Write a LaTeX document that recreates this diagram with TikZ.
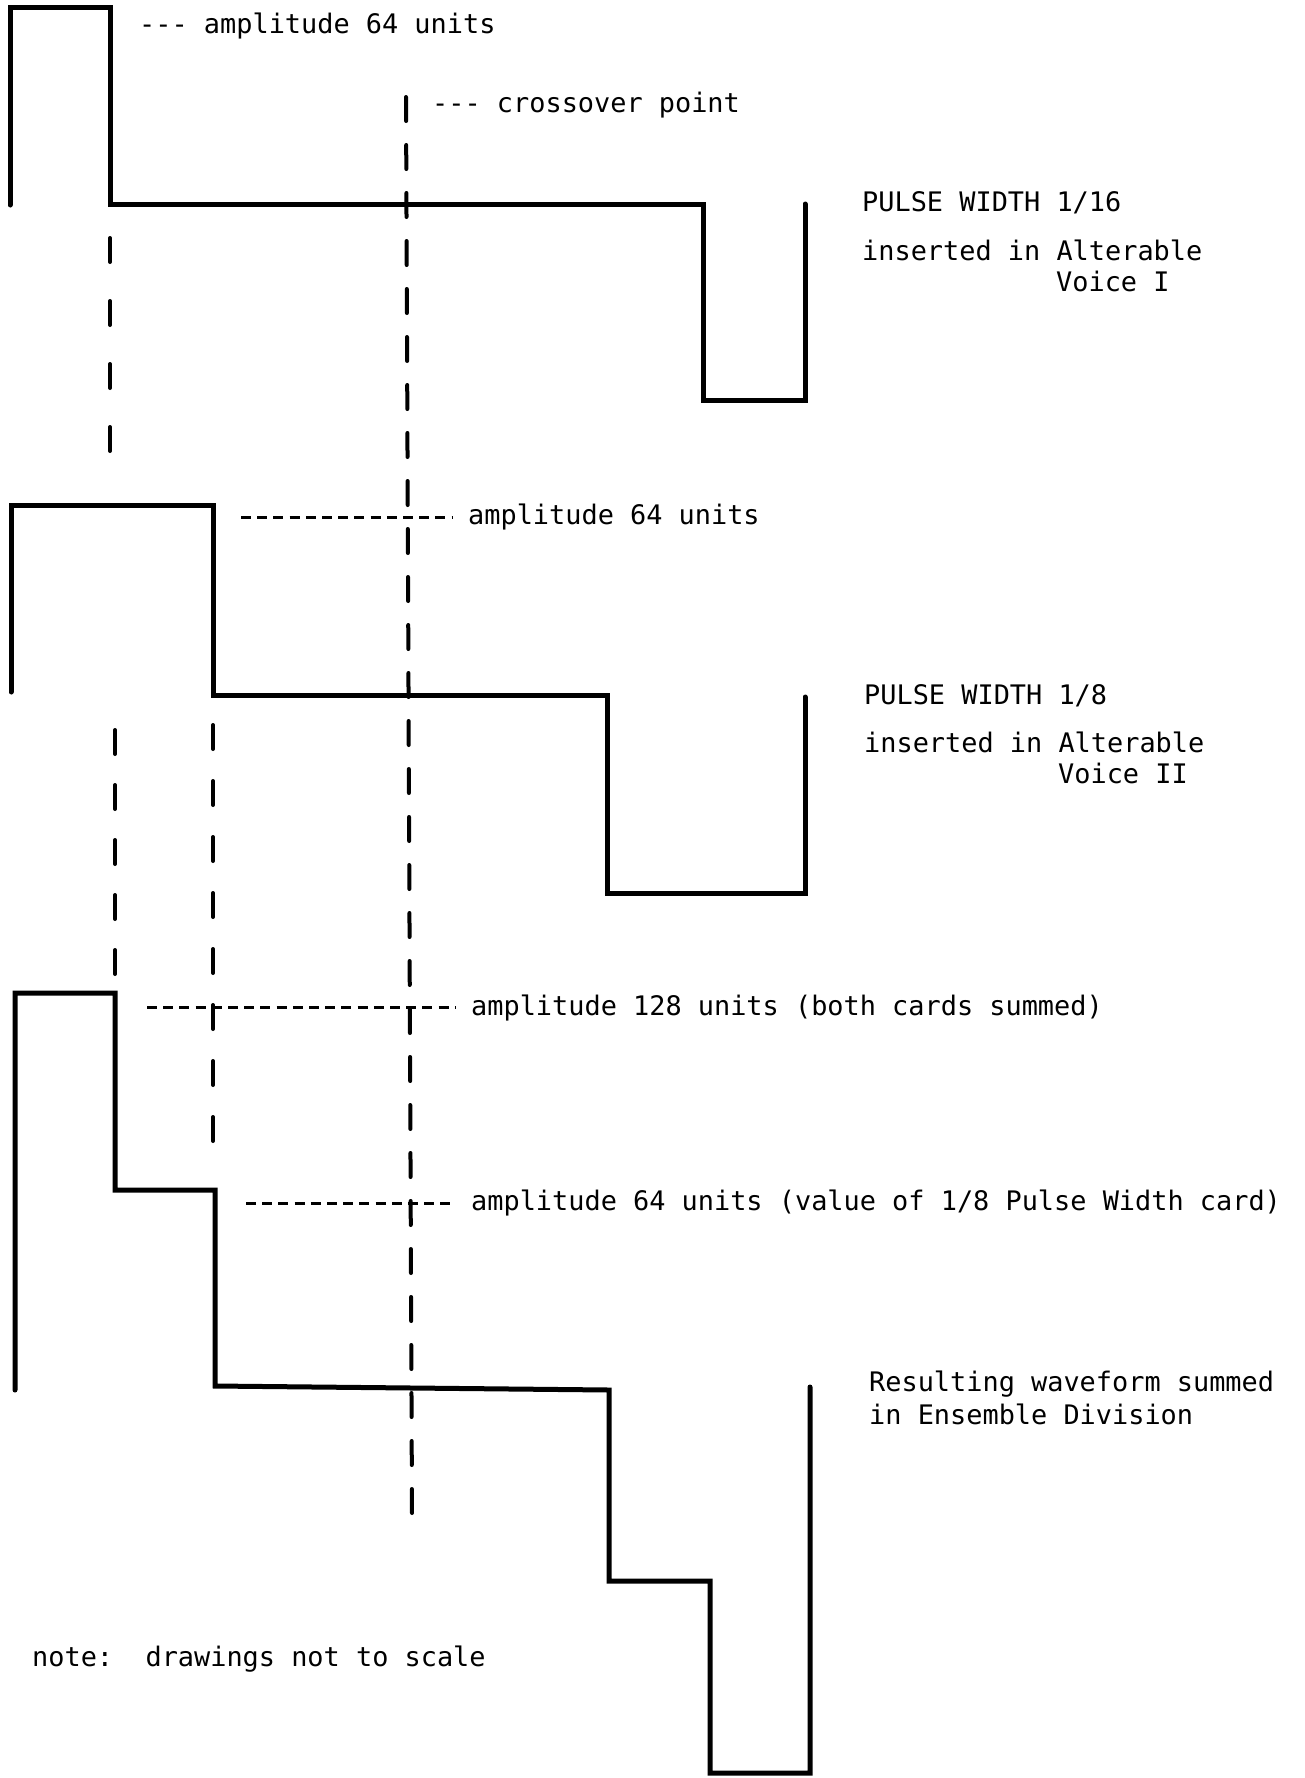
\documentclass[tikz,border=0pt]{standalone}
\usepackage{fontspec}
\setmonofont{DejaVu Sans Mono}
\begin{document}
\begin{tikzpicture}[x=1pt,y=-1pt,
  wave/.style={line width=5pt, line join=miter, line cap=round},
  guide/.style={line width=4pt, line cap=round},
  lead/.style={line width=3pt, dash pattern=on 10pt off 6.2pt},
  lbl/.style={font=\ttfamily\fontsize{26.9}{32}\selectfont, inner sep=0pt, anchor=base west},
  leadlbl/.style={lbl, inner xsep=16pt}]
\fill[white] (0,0) rectangle (1305,1778);
\useasboundingbox (0,0) rectangle (1305,1778);

% ---------- waveform 1: pulse width 1/16 ----------
\draw[wave] (10,205) -- (10,7) -- (110,7) -- (110,204) -- (703,204) -- (703,400) -- (805,400) -- (805,204);
\node[lbl] (amp1) at (139,33) {--- amplitude 64 units};
\node[lbl] (xo) at (432,112) {--- crossover point};
\node[lbl] (p1a) at (862,211) {PULSE WIDTH 1/16};
\node[lbl] (p1b) at (862,260) {inserted in Alterable};
\node[lbl] (p1c) at (1056,291) {Voice I};

% ---------- crossover guide ----------
\coordinate (xoT) at (406,97);
\coordinate (xoB) at (412,1515);
\draw[guide, dash pattern=on 24pt off 24pt] (xoT) -- (xoB);

% guide below pulse 1
\coordinate (g1T) at (110,238);
\coordinate (g1B) at (110,452);
\draw[guide, dash pattern=on 24pt off 39pt] (g1T) -- (g1B);

% ---------- waveform 2: pulse width 1/8 ----------
\draw[wave] (11,692) -- (11,505) -- (213,505) -- (213,695) -- (607,695) -- (607,893) -- (805,893) -- (805,697);
\coordinate (h2s) at (241,517);
\node[leadlbl] (amp2) at (452,524) {amplitude 64 units};
\draw[lead] (h2s) -- ([yshift=7pt]amp2.base west);
\node[lbl] (p2a) at (864,704) {PULSE WIDTH 1/8};
\node[lbl] (p2b) at (864,752) {inserted in Alterable};
\node[lbl] (p2c) at (1058,783) {Voice II};

% guides below pulse 2
\coordinate (g2T) at (115,730);
\coordinate (g2B) at (115,975);
\draw[guide, dash pattern=on 24pt off 31pt] (g2T) -- (g2B);
\coordinate (g3T) at (213,725);
\coordinate (g3B) at (213,1143);
\draw[guide, dash pattern=on 24pt off 32pt] (g3T) -- (g3B);

% ---------- waveform 3: resulting sum ----------
\draw[wave] (15,1390) -- (15,993) -- (115,993) -- (115,1190) -- (215,1190) -- (215,1386) -- (609,1390) -- (609,1581) -- (710,1581) -- (710,1773) -- (810,1773) -- (810,1387);
\coordinate (h3s) at (147,1007);
\node[leadlbl] (amp3) at (455,1015) {amplitude 128 units (both cards summed)};
\draw[lead] (h3s) -- ([yshift=8pt]amp3.base west);
\coordinate (h4s) at (246,1203);
\node[leadlbl] (amp4) at (455,1210) {amplitude 64 units (value of 1/8 Pulse Width card)};
\draw[lead] (h4s) -- ([yshift=7pt]amp4.base west);
\node[lbl] (r1) at (869,1391) {Resulting waveform summed};
\node[lbl] (r2) at (869,1424) {in Ensemble Division};

\node[lbl] (note) at (32,1666) {note:~~drawings not to scale};
\end{tikzpicture}
\end{document}
